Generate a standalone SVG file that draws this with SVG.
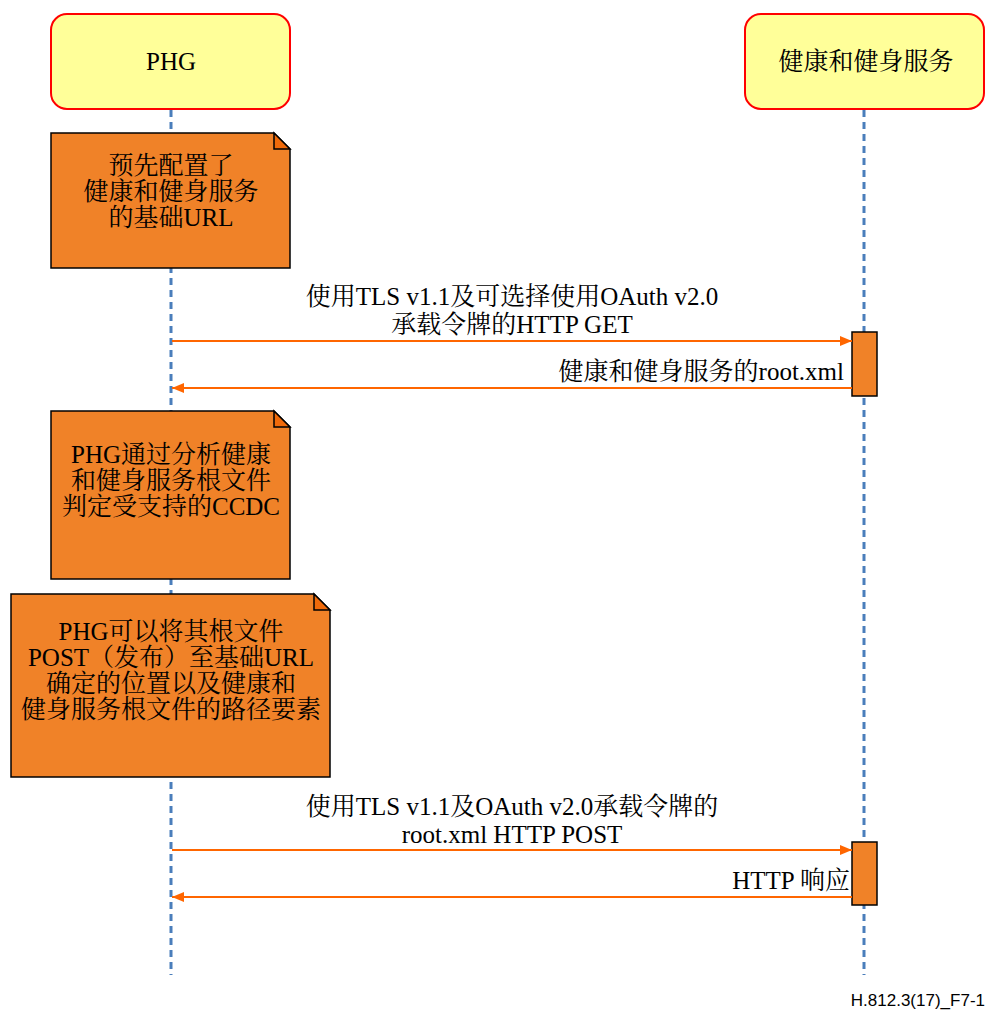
<svg xmlns="http://www.w3.org/2000/svg" width="989" height="1010" viewBox="0 0 989 1010">
<style>
.bg{fill:#ffffff}
.actor{fill:#FFFF99;stroke:#FF0000;stroke-width:2}
.life{stroke:#4A7EBB;stroke-width:3;stroke-dasharray:7,5;fill:none}
.note{fill:#F08228;stroke:#000000;stroke-width:1.5}
.fold{fill:#F06A0A;stroke:#000000;stroke-width:1.5}
.act{fill:#F08228;stroke:#000000;stroke-width:1.5}
.msg{stroke:#FF6600;stroke-width:2;fill:none}
.t{font-family:"Liberation Serif","Noto Serif CJK SC","Noto Sans CJK SC",serif;font-size:25px;fill:#000000}
.c{text-anchor:middle}
.r{text-anchor:end}
.foot{font-family:"Liberation Sans",Arial,sans-serif;font-size:17px;fill:#000000;text-anchor:end}
</style>
<defs>
<marker id="ah" viewBox="0 0 12 10" refX="12" refY="5" markerWidth="12" markerHeight="10" markerUnits="userSpaceOnUse" orient="auto">
<path d="M0,0 L12,5 L0,10 Z" fill="#FF6600"/>
</marker>
</defs>
<rect class="bg" x="0" y="0" width="989" height="1010"/>
<g id="lifelines">
<line class="life" x1="171" y1="110" x2="171" y2="975"/>
<line class="life" x1="864" y1="110" x2="864" y2="975"/>
</g>
<g id="actor-phg">
<rect class="actor" x="51" y="14" width="239" height="95" rx="16"/>
<text class="t c" x="171" y="70">PHG</text>
</g>
<g id="actor-service">
<rect class="actor" x="745" y="14" width="239" height="95" rx="16"/>
<text class="t c" x="866" y="70">健康和健身服务</text>
</g>
<g id="note1">
<path class="note" d="M51,133 L274,133 L290,149 L290,268 L51,268 Z"/>
<path class="fold" d="M274,133 L274,149 L290,149 Z"/>
<text class="t c" x="171" y="174">预先配置了</text>
<text class="t c" x="171" y="200">健康和健身服务</text>
<text class="t c" x="171" y="226">的基础URL</text>
</g>
<g id="note2">
<path class="note" d="M51,411 L274,411 L290,427 L290,579 L51,579 Z"/>
<path class="fold" d="M274,411 L274,427 L290,427 Z"/>
<text class="t c" x="171" y="463">PHG通过分析健康</text>
<text class="t c" x="171" y="489">和健身服务根文件</text>
<text class="t c" x="171" y="515">判定受支持的CCDC</text>
</g>
<g id="note3">
<path class="note" d="M11,594 L314,594 L330,610 L330,777 L11,777 Z"/>
<path class="fold" d="M314,594 L314,610 L330,610 Z"/>
<text class="t c" x="171" y="640">PHG可以将其根文件</text>
<text class="t c" x="171" y="666">POST（发布）至基础URL</text>
<text class="t c" x="171" y="692">确定的位置以及健康和</text>
<text class="t c" x="171" y="718">健身服务根文件的路径要素</text>
</g>
<g id="activation1">
<rect class="act" x="852" y="332" width="25" height="64"/>
</g>
<g id="activation2">
<rect class="act" x="852" y="842" width="25" height="63"/>
</g>
<g id="connectors">
<line class="msg" x1="172" y1="341" x2="852" y2="341" marker-end="url(#ah)"/>
<line class="msg" x1="852" y1="388" x2="172" y2="388" marker-end="url(#ah)"/>
<line class="msg" x1="172" y1="850" x2="852" y2="850" marker-end="url(#ah)"/>
<line class="msg" x1="852" y1="897" x2="172" y2="897" marker-end="url(#ah)"/>
</g>
<g id="labels">
<text class="t c" x="512" y="305">使用TLS v1.1及可选择使用OAuth v2.0</text>
<text class="t c" x="512" y="333">承载令牌的HTTP GET</text>
<text class="t r" x="844" y="380">健康和健身服务的root.xml</text>
<text class="t c" x="512" y="815">使用TLS v1.1及OAuth v2.0承载令牌的</text>
<text class="t c" x="512" y="843">root.xml HTTP POST</text>
<text class="t r" x="850" y="889">HTTP 响应</text>
</g>
<text class="foot" x="985" y="1006">H.812.3(17)_F7-1</text>
</svg>
